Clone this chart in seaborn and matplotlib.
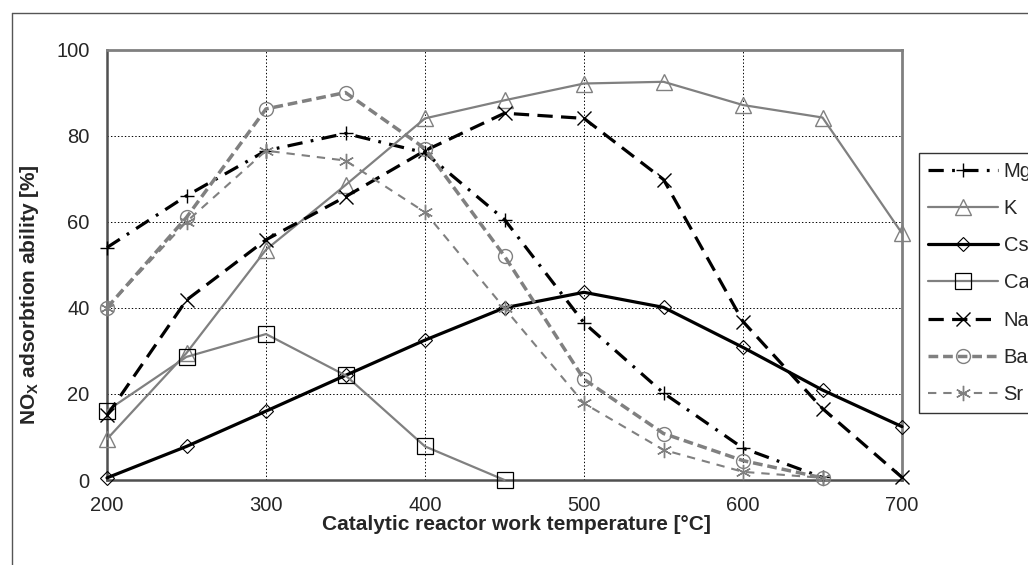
import matplotlib
matplotlib.use("Agg")
import matplotlib.pyplot as plt
import seaborn as sns
from matplotlib.lines import Line2D

# ---- data ----
temps = [200, 250, 300, 350, 400, 450, 500, 550, 600, 650, 700]
series_names = ["Mg", "K", "Cs", "Ca", "Na", "Ba", "Sr"]
mg = [54, 66, 76.5, 80.5, 76, 60.5, 36.5, 20.2, 7.4, 0.6]
k = [9.5, 29.5, 53.5, 68.5, 84, 88.2, 92.1, 92.5, 87.1, 84.2, 57.3]
cs = [0.5, 7.8, 16, 24.3, 32.5, 40, 43.6, 40.1, 30.8, 20.9, 12.4]
ca = [16.1, 28.6, 33.9, 24.3, 7.8, 0]
na = [15, 41.8, 55.8, 65.8, 76.5, 85.2, 84, 69.8, 36.8, 16.6, 0.6]
ba = [40, 61, 86.2, 90, 77, 52, 23.4, 10.8, 4.5, 0.5]
sr = [40, 60, 76.5, 74.2, 62.2, 39.9, 17.8, 7, 1.9, 0.5]
values = [mg, k, cs, ca, na, ba, sr]
x_ticks = [200, 300, 400, 500, 600, 700]
y_ticks = [0, 20, 40, 60, 80, 100]

sns.set_style("white")
plt.rcParams["font.family"] = ["Liberation Sans", "DejaVu Sans"]
plt.rcParams["mathtext.fontset"] = "custom"
plt.rcParams["mathtext.bf"] = "Liberation Sans:bold"
plt.rcParams["mathtext.rm"] = "Liberation Sans"
plt.rcParams["lines.scale_dashes"] = False

W, H = 1028, 565
fig = plt.figure(figsize=(W / 100, H / 100), dpi=100)
ax = fig.add_axes([107 / W, 1 - 480 / H, (902 - 107) / W, (480 - 49.5) / H])

GRAY = "#808080"
styles = {
    "Mg": dict(color="black", lw=2.3, ls=(0, (11, 6, 2, 6)), marker="+", ms=10, mec="black", mew=1.0),
    "K": dict(color=GRAY, lw=1.6, ls="-", marker="^", ms=11, mec=GRAY, mew=1.0),
    "Cs": dict(color="black", lw=2.3, ls="-", marker="D", ms=7.5, mec="black", mew=0.8),
    "Ca": dict(color=GRAY, lw=1.6, ls="-", marker="s", ms=12, mec="black", mew=0.9),
    "Na": dict(color="black", lw=2.3, ls=(0, (11, 6)), marker="x", ms=10.5, mec="black", mew=1.0),
    "Ba": dict(color=GRAY, lw=2.5, ls=(0, (7, 3.5)), marker="o", ms=10, mec=GRAY, mew=1.0),
    "Sr": dict(color=GRAY, lw=1.5, ls=(0, (6, 5)), marker=(6, 2, 0), ms=11, mec=GRAY, mew=1.0),
}

handles = []
for name, vals in zip(series_names, values):
    st = styles[name]
    xs = temps[:len(vals)]
    sns.lineplot(x=xs, y=vals, ax=ax, color=st["color"], linewidth=st["lw"],
                 linestyle=st["ls"], marker=st["marker"], markersize=st["ms"],
                 markeredgecolor=st["mec"], markerfacecolor="none",
                 markeredgewidth=st["mew"], clip_on=False, zorder=3)
    handles.append(ax.lines[-1])

ax.set_xlim(200, 700)
ax.set_ylim(0, 100)
ax.set_xticks(x_ticks)
ax.set_yticks(y_ticks)
ax.set_xlabel("")
ax.set_ylabel("")
ax.tick_params(axis="both", direction="out", length=5, width=1, color="#404040",
               labelsize=14.5)
ax.tick_params(axis="x", pad=6.5)
ax.tick_params(axis="y", pad=7.5)
ax.grid(True, which="major", color="black", linestyle=(0, (1, 1.5)), linewidth=0.7, zorder=0)
ax.set_axisbelow(True)
for side in ["left", "bottom"]:
    ax.spines[side].set_color("#505050")
    ax.spines[side].set_linewidth(1.8)
for side in ["top", "right"]:
    ax.spines[side].set_color(GRAY)
    ax.spines[side].set_linewidth(2)
    ax.spines[side].set_visible(True)

fig.text(516 / W, 1 - 524 / H, "Catalytic reactor work temperature [°C]",
         ha="center", va="center", fontsize=15, fontweight="bold")
fig.text(30 / W, 1 - 295 / H, r"NO$_{\mathbf{X}}$ adsorbtion ability [%]",
         ha="center", va="center", rotation=90, fontsize=15, fontweight="bold")

leg = ax.legend(handles, series_names, loc="upper left",
                bbox_to_anchor=(919 / W, 1 - 153 / H), bbox_transform=fig.transFigure,
                fontsize=14.5, handlelength=3.45, handletextpad=0.3, borderpad=0.45,
                labelspacing=0.9, frameon=True, fancybox=False, borderaxespad=0,
                numpoints=1)
leg.get_frame().set_edgecolor("black")
leg.get_frame().set_linewidth(1.0)

# chart-area border (partially visible)
fig.add_artist(Line2D([12 / W, 12 / W], [0, 1 - 13 / H], transform=fig.transFigure,
                      color="#555555", lw=1.0))
fig.add_artist(Line2D([12 / W, 1], [1 - 13 / H, 1 - 13 / H], transform=fig.transFigure,
                      color="#555555", lw=1.0))

fig.savefig("out.png", dpi=100)
